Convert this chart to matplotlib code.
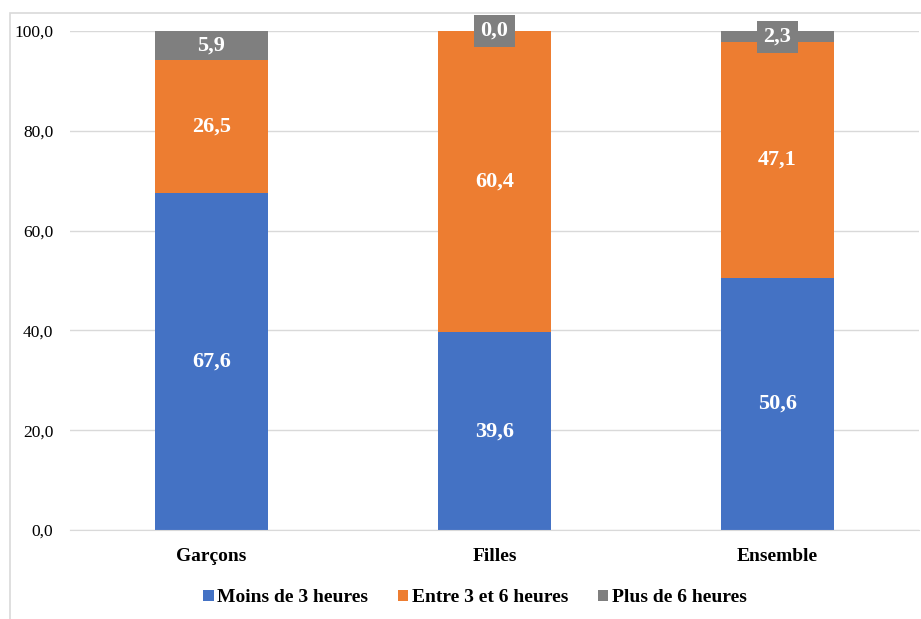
import matplotlib.pyplot as plt
import numpy as np
from matplotlib.patches import Rectangle

plt.rcParams['font.family'] = ['Liberation Serif', 'DejaVu Serif']

groupes = ["Garçons", "Filles", "Ensemble"]
series = ["Moins de 3 heures", "Entre 3 et 6 heures", "Plus de 6 heures"]
moins_3h = [67.6, 39.6, 50.6]
entre_3_6h = [26.5, 60.4, 47.1]
plus_6h = [5.9, 0.0, 2.3]
yticks = [0, 20, 40, 60, 80, 100]

couleurs = ["#4472C4", "#ED7D31", "#7F7F7F"]


def fmt(v):
    return f"{v:.1f}".replace(".", ",")


fig = plt.figure(figsize=(9.21, 6.19), dpi=100)
# light frame around the chart area
fig.patches.append(Rectangle((10 / 921, -0.1), 1.2, 1 - 13 / 619 + 0.1,
                             transform=fig.transFigure, fill=False,
                             edgecolor="#D9D9D9", linewidth=1.2))
ax = fig.add_axes([70 / 921, 89 / 619, 849 / 921, 499 / 619])

x = np.arange(len(groupes))
bas = np.zeros(len(groupes))
for valeurs, nom, c in zip([moins_3h, entre_3_6h, plus_6h], series, couleurs):
    valeurs = np.array(valeurs)
    ax.bar(x, valeurs, 0.4, bottom=bas, color=c, label=nom, zorder=2)
    for xi, b, v in zip(x, bas, valeurs):
        if v < 4:
            # segment too thin for its label: put it on a grey box
            ax.text(xi, b + v / 2, fmt(v), ha="center", va="center",
                    color="white", fontsize=16, fontweight="bold", zorder=4,
                    bbox=dict(boxstyle="square,pad=0.28", facecolor=c,
                              edgecolor="none"))
        else:
            ax.text(xi, b + v / 2, fmt(v), ha="center", va="center",
                    color="white", fontsize=16, fontweight="bold", zorder=4)
    bas = bas + valeurs

ax.set_xlim(-0.5, 2.5)
ax.set_ylim(0, 100)
ax.set_yticks(yticks)
ax.set_yticklabels([fmt(t) for t in yticks], fontsize=12.5)
ax.set_xticks(x)
ax.set_xticklabels(groupes, fontsize=14, fontweight="bold")
ax.tick_params(axis="y", length=0, pad=12)
ax.tick_params(axis="x", length=0, pad=13)
ax.grid(axis="y", color="#D9D9D9", linewidth=1, zorder=0)
ax.set_axisbelow(True)
for s in ["top", "right", "left"]:
    ax.spines[s].set_visible(False)
ax.spines["bottom"].set_color("#D9D9D9")

fig.legend(loc="center", bbox_to_anchor=(475 / 921, 1 - 598 / 619), ncol=3,
           frameon=False, prop=dict(size=14, weight="bold"),
           handlelength=0.55, handleheight=0.55, handletextpad=0.2,
           columnspacing=1.5)

fig.savefig("out.png", dpi=100)
